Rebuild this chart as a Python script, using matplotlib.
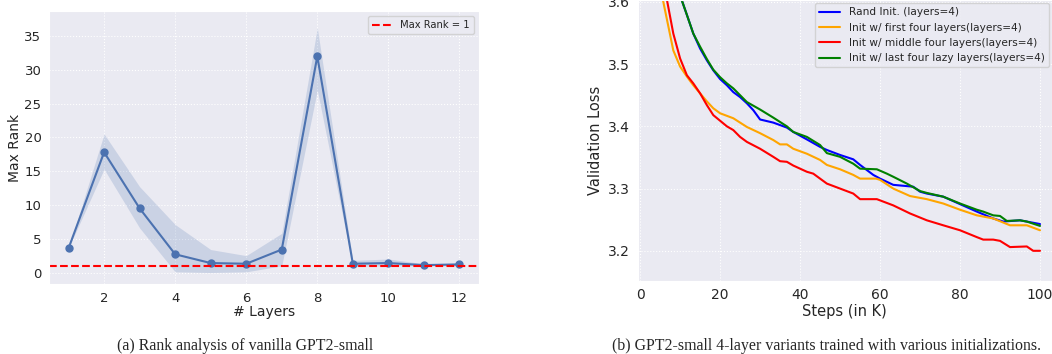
import numpy as np
import matplotlib
matplotlib.use("Agg")
import matplotlib.pyplot as plt
import seaborn as sns

sns.set_style("darkgrid", {"grid.linestyle": ":", "grid.color": "white"})
plt.rcParams['font.family'] = ['DejaVu Sans']

# (a) rank analysis
layers = [1, 2, 3, 4, 5, 6, 7, 8, 9, 10, 11, 12]
rank_mean = [3.6, 17.8, 9.5, 2.7, 1.4, 1.3, 3.4, 32.0, 1.3, 1.4, 1.1, 1.2]
rank_low = [3.6, 15.3, 6.6, 0.1, 0.0, 0.1, 1.0, 27.0, 0.9, 1.0, 1.0, 1.0]
rank_high = [3.6, 20.5, 12.7, 7.1, 3.4, 2.5, 5.8, 36.2, 1.8, 2.0, 1.3, 1.4]

# (b) validation loss
rand_x = [10.0, 10.4, 11.7, 13.3, 15.0, 16.7, 18.3, 20.0, 21.7, 23.3, 25.0, 26.7, 28.3, 30.0, 33.3, 36.7,
          38.3, 41.7, 45.0, 46.7, 50.0, 53.3, 55.0, 58.3, 60.0, 63.3, 66.7, 68.3, 70.0, 71.7, 75.8,
          80.0, 84.2, 88.3, 90.8, 95.0, 96.7, 100.0]
rand_y = [3.62, 3.603, 3.579, 3.549, 3.525, 3.506, 3.490, 3.476, 3.466, 3.455, 3.447, 3.437, 3.426, 3.411,
          3.406, 3.398, 3.391, 3.379, 3.367, 3.362, 3.354, 3.347, 3.338, 3.322, 3.316, 3.306, 3.304,
          3.303, 3.295, 3.292, 3.287, 3.275, 3.263, 3.252, 3.247, 3.249, 3.247, 3.243]

first_x = [5.0, 5.7, 8.3, 10.0, 11.7, 13.3, 15.0, 16.7, 18.3, 20.0, 23.3, 26.7, 30.0, 33.3, 35.0, 36.7,
           38.3, 41.7, 45.0, 46.7, 50.0, 53.3, 55.0, 59.0, 60.0, 63.3, 67.5, 71.7, 75.8, 80.0, 84.2,
           88.3, 92.5, 96.7, 100.0]
first_y = [3.65, 3.603, 3.522, 3.496, 3.480, 3.466, 3.453, 3.440, 3.429, 3.421, 3.413, 3.399, 3.389, 3.378,
           3.371, 3.371, 3.364, 3.356, 3.346, 3.338, 3.331, 3.322, 3.316, 3.316, 3.314, 3.300, 3.288,
           3.283, 3.276, 3.266, 3.257, 3.252, 3.241, 3.241, 3.233]

middle_x = [6.0, 6.8, 8.3, 10.0, 11.7, 13.3, 15.0, 16.7, 18.3, 20.0, 21.7, 23.3, 25.0, 26.7, 30.0, 33.3,
            35.0, 36.7, 38.3, 41.7, 43.3, 46.7, 50.0, 53.3, 55.0, 59.2, 63.3, 67.5, 71.7, 75.8, 80.0,
            84.2, 85.8, 88.3, 90.0, 92.5, 96.7, 98.3, 100.0]
middle_y = [3.63, 3.600, 3.549, 3.509, 3.482, 3.469, 3.453, 3.434, 3.418, 3.409, 3.400, 3.394, 3.383, 3.375,
            3.364, 3.351, 3.344, 3.343, 3.337, 3.327, 3.324, 3.308, 3.300, 3.292, 3.283, 3.283, 3.273,
            3.260, 3.249, 3.241, 3.233, 3.222, 3.218, 3.218, 3.216, 3.206, 3.207, 3.200, 3.200]

last_x = [10.0, 10.4, 11.7, 13.3, 15.0, 16.7, 18.3, 20.0, 21.7, 23.3, 25.0, 26.7, 30.0, 33.3, 36.7, 38.3,
          41.7, 45.0, 46.7, 50.0, 53.3, 55.0, 59.2, 61.7, 63.3, 66.7, 70.0, 71.7, 75.8, 80.0, 84.2,
          85.8, 88.3, 90.0, 91.7, 95.0, 96.7, 100.0]
last_y = [3.62, 3.603, 3.579, 3.549, 3.528, 3.508, 3.491, 3.479, 3.469, 3.461, 3.450, 3.439, 3.427, 3.414,
          3.400, 3.391, 3.383, 3.370, 3.357, 3.351, 3.340, 3.332, 3.331, 3.324, 3.319, 3.308, 3.296,
          3.293, 3.287, 3.276, 3.266, 3.263, 3.257, 3.256, 3.248, 3.249, 3.247, 3.240]

fig = plt.figure(figsize=(10.52, 3.54), dpi=100)

ax1 = fig.add_axes([0.0466, 0.1977, 0.4087, 0.7712])
ax1.fill_between(layers, rank_low, rank_high, color='#4c72b0', alpha=0.2, lw=0)
ax1.plot(layers, rank_mean, '-o', color='#4c72b0', lw=1.5, ms=5)
ax1.axhline(1, color='red', ls='--', lw=1.5, label='Max Rank = 1')
ax1.set_xlim(0.45, 12.55)
ax1.set_ylim(-1.7, 38.7)
ax1.set_xticks([2, 4, 6, 8, 10, 12])
ax1.set_yticks([0, 5, 10, 15, 20, 25, 30, 35])
ax1.tick_params(labelsize=9.5, pad=2)
ax1.set_xlabel('# Layers', fontsize=10, labelpad=0)
ax1.set_ylabel('Max Rank', fontsize=10, labelpad=2)
ax1.legend(loc='upper right', fontsize=7.2)

ax2 = fig.add_axes([0.6062, 0.2071, 0.3938, 0.7929])
ax2.plot(rand_x, rand_y, color='blue', lw=1.5, label='Rand Init. (layers=4)')
ax2.plot(first_x, first_y, color='orange', lw=1.5, label='Init w/ first four layers(layers=4)')
ax2.plot(middle_x, middle_y, color='red', lw=1.5, label='Init w/ middle four layers(layers=4)')
ax2.plot(last_x, last_y, color='green', lw=1.5, label='Init w/ last four lazy layers(layers=4)')
ax2.set_xlim(-0.6, 103)
ax2.set_ylim(3.152, 3.603)
ax2.set_xticks([0, 20, 40, 60, 80, 100])
ax2.set_yticks([3.2, 3.3, 3.4, 3.5, 3.6])
ax2.tick_params(labelsize=10, pad=2)
ax2.set_xlabel('Steps (in K)', fontsize=10.5, labelpad=1)
ax2.set_ylabel('Validation Loss', fontsize=10.5, labelpad=4)
ax2.legend(loc='upper right', fontsize=7.6, borderaxespad=0.3)

fig.text(245 / 1052, 1 - 346 / 354, '(a) Rank analysis of vanilla GPT2-small',
         family='Liberation Serif', fontsize=11.4, ha='center', va='center')
fig.text(826 / 1052, 1 - 346 / 354, '(b) GPT2-small 4-layer variants trained with various initializations.',
         family='Liberation Serif', fontsize=11.4, ha='center', va='center')

fig.savefig('out.png', dpi=100)
